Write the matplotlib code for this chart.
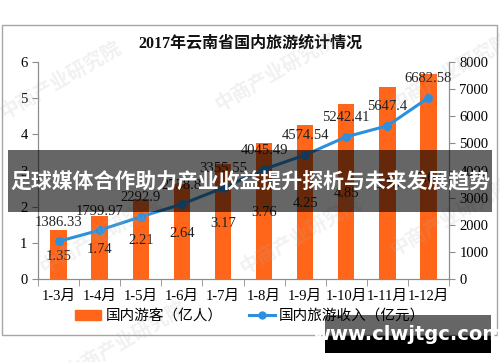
import numpy as np
import matplotlib.pyplot as plt
from matplotlib.patches import Rectangle
from matplotlib.lines import Line2D

months = ['1-3月', '1-4月', '1-5月', '1-6月', '1-7月', '1-8月', '1-9月', '1-10月', '1-11月', '1-12月']
tourists = [1.35, 1.74, 2.21, 2.64, 3.17, 3.76, 4.25, 4.85, 5.30, 5.67]
income = [1386.33, 1799.97, 2292.9, 2758.8, 3355.55, 4045.49, 4574.54, 5242.41, 5647.4, 6682.58]
income_labels = ['1386.33', '1799.97', '2292.9', '2758.8', '3355.55', '4045.49', '4574.54', '5242.41', '5647.4', '6682.58']

num_font = ['Liberation Serif', 'Noto Sans CJK SC']
plt.rcParams['font.family'] = num_font

bar_color = '#ff661a'
line_color = '#2e90dc'
axis_color = '#8c8c8c'

fig = plt.figure(figsize=(5, 3.62), dpi=100)

# outer frame of the chart
fig.patches.append(Rectangle((2 / 500, 1 - 335 / 362), 495 / 500, 310 / 362, transform=fig.transFigure,
                             fill=False, edgecolor='#a6a6a6', linewidth=1.0))

ax = fig.add_axes([38 / 500, 1 - 279 / 362, 411 / 500, 217 / 362])
ax2 = ax.twinx()

x = np.arange(len(months))
ax.bar(x, tourists, width=0.4, color=bar_color, zorder=2)
ax.set_xlim(-0.5, len(months) - 0.5)
ax.set_ylim(0, 6)
ax.set_yticks(range(0, 7))
ax.set_xticks(x)
ax.set_xticklabels(months, fontsize=10.5)
ax.set_xticks(np.arange(-0.5, len(months)), minor=True)
ax.tick_params(axis='x', which='major', length=0, pad=8)
ax.tick_params(axis='x', which='minor', length=5, color=axis_color)
ax.tick_params(axis='y', length=4, color=axis_color, labelsize=10.5)

for xi, v in zip(x, tourists):
    ax.text(xi, v / 2 - 0.05, f'{v:.2f}', ha='center', va='center', fontsize=10.5, color='#222222', zorder=5)

ax2.plot(x, income, color=line_color, linewidth=2.2, marker='o', markersize=5.5, zorder=4)
ax2.set_ylim(0, 8000)
ax2.set_yticks(range(0, 8001, 1000))
ax2.tick_params(axis='y', length=4, color=axis_color, labelsize=10.5)
for xi, v, lab in zip(x, income, income_labels):
    ax2.annotate(lab, (xi, v), xytext=(0, 9), textcoords='offset points', ha='center', va='bottom',
                 fontsize=10.5, color='#222222')

for a in (ax, ax2):
    a.spines['top'].set_visible(False)
    for s in ('left', 'right', 'bottom'):
        a.spines[s].set_color(axis_color)
    a.patch.set_alpha(0)

fig.text(0.5, 1 - 43 / 362, '2017年云南省国内旅游统计情况', ha='center', va='center',
         fontsize=11.5, fontweight='bold', color='#111111')

# legend
handles = [Rectangle((0, 0), 1, 1, color=bar_color),
           Line2D([0], [0], color=line_color, linewidth=2.2, marker='o', markersize=5)]
fig.legend(handles, ['国内游客（亿人）', '国内旅游收入（亿元）'], loc='center',
           bbox_to_anchor=(0.5, 1 - 316 / 362), ncol=2, frameon=False, fontsize=10.5,
           handlelength=1.8, handleheight=0.7, columnspacing=1.8, handletextpad=0.3)

# watermarks
for wx, wy in [(0.12, 0.78), (0.55, 0.8), (0.9, 0.8), (0.2, 0.35), (0.6, 0.35), (0.9, 0.4), (0.25, 0.06)]:
    fig.text(wx, wy, '中商产业研究院', rotation=30, fontsize=14, color='#b0b0b0', alpha=0.18,
             ha='center', va='center', family=['Noto Sans CJK SC'], fontweight='bold')

# overlay banner
fig.patches.append(Rectangle((8 / 500, 1 - 212 / 362), 484 / 500, 62 / 362, transform=fig.transFigure,
                             facecolor='black', alpha=0.6, edgecolor='none', zorder=10))
fig.text(0.5, 1 - 182 / 362, '足球媒体合作助力产业收益提升探析与未来发展趋势', ha='center', va='center',
         fontsize=15, fontweight='bold', color='white', family=['Noto Sans CJK SC'], zorder=11)

fig.patches.append(Rectangle((325 / 500, 1 - 336 / 362), 166 / 500, 21 / 362, transform=fig.transFigure,
                             facecolor='black', alpha=0.6, edgecolor='none', zorder=10))
fig.patches.append(Rectangle((325 / 500, 1 - 353 / 362), 166 / 500, 17 / 362, transform=fig.transFigure,
                             facecolor='black', edgecolor='none', zorder=10))
fig.text(408 / 500, 1 - 334 / 362, 'www.clwjtgc.com', ha='center', va='center',
         fontsize=14, fontweight='bold', color='white', family=['DejaVu Sans'], zorder=11)

fig.savefig('out.png', dpi=100)
